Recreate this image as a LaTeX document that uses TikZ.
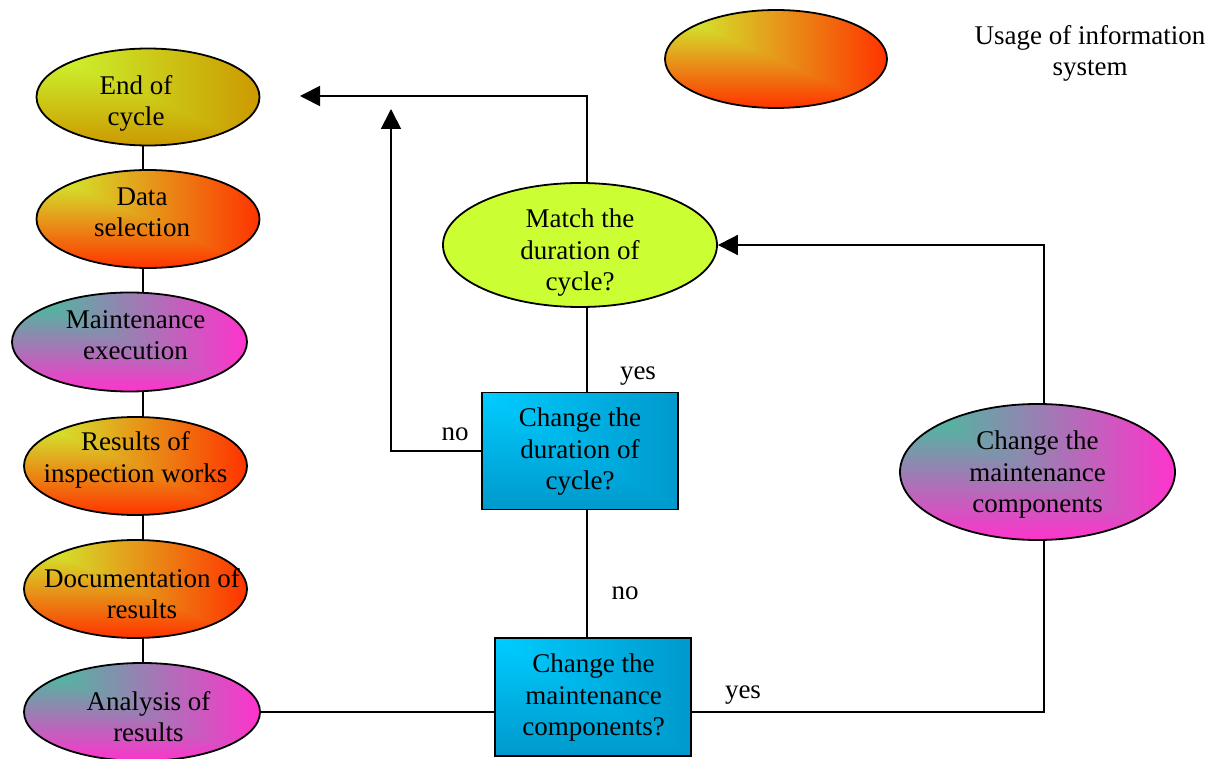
\documentclass[tikz,border=0pt]{standalone}
\usepackage{fontspec}
\setmainfont{Liberation Serif}
\usetikzlibrary{shapes.geometric,arrows.meta}
\definecolor{ygreen}{RGB}{204,255,51}
% rectangular "from corner" gradients (top-left -> rest), t = max(u,v)
\pgfdeclarefunctionalshading{goldsh}{\pgfpoint{-50bp}{-50bp}}{\pgfpoint{50bp}{50bp}}{}{
  25 exch sub 50 div exch 25 add 50 div
  2 copy lt {exch} if pop
  dup 1 gt {pop 1} if dup 0 lt {pop 0} if
  dup 0 mul 0.8 add exch dup -0.4 mul 1.0 add exch -0.2 mul 0.2 add
}
\pgfdeclarefunctionalshading{orangesh}{\pgfpoint{-50bp}{-50bp}}{\pgfpoint{50bp}{50bp}}{}{
  25 exch sub 50 div exch 25 add 50 div
  2 copy lt {exch} if pop
  dup 1 gt {pop 1} if dup 0 lt {pop 0} if
  dup 0.2 mul 0.8 add exch dup -0.8 mul 1.0 add exch -0.2 mul 0.2 add
}
\pgfdeclarefunctionalshading{pinksh}{\pgfpoint{-50bp}{-50bp}}{\pgfpoint{50bp}{50bp}}{}{
  25 exch sub 50 div exch 25 add 50 div
  2 copy lt {exch} if pop
  dup 1 gt {pop 1} if dup 0 lt {pop 0} if
  dup 0.8 mul 0.2 add exch dup -0.6 mul 0.8 add exch 0.2 mul 0.6 add
}
\pgfdeclarefunctionalshading{cyansh}{\pgfpoint{-50bp}{-50bp}}{\pgfpoint{50bp}{50bp}}{}{
  25 exch sub 50 div exch 25 add 50 div
  2 copy lt {exch} if pop
  dup 1 gt {pop 1} if dup 0 lt {pop 0} if
  dup 0 mul 0 add exch dup -0.2 mul 0.8 add exch -0.2 mul 1.0 add
}
\newcommand\dfont{\fontsize{13.5pt}{15.75pt}\selectfont}
\tikzset{
  ell/.style={ellipse, draw, line width=0.9pt, inner sep=0pt},
  qbox/.style={rectangle, draw, line width=0.9pt, inner sep=0pt, shading=cyansh},
  txt/.style={align=center, inner sep=0pt, font=\dfont},
  conn/.style={line width=0.9pt},
  arr/.style={conn, -{Triangle[length=10pt,width=10pt]}},
}
\begin{document}
\begin{tikzpicture}[x=0.5pt,y=-0.5pt]
\useasboundingbox (0,0) rectangle (1217,759);
% left column
\node[ell, shading=goldsh, minimum width=111.5pt, minimum height=48.5pt] (endc) at (148,97) {};
\node[txt] (endc-t) at (136,103.5) {End of\\cycle};
\node[ell, shading=orangesh, minimum width=111.5pt, minimum height=49pt] (data) at (148,219) {};
\node[txt] (data-t) at (142,212.5) {Data\\selection};
\node[ell, shading=pinksh, minimum width=117.5pt, minimum height=49.5pt] (maint) at (129.5,342) {};
\node[txt] (maint-t) at (135.5,335) {Maintenance\\execution};
\node[ell, shading=orangesh, minimum width=111.5pt, minimum height=49pt] (res) at (135.5,466) {};
\node[txt] (res-t) at (135.5,460) {Results of\\inspection works};
\node[ell, shading=orangesh, minimum width=111.5pt, minimum height=49pt] (doc) at (135.5,589) {};
\node[txt] (doc-t) at (142,593.5) {Documentation of\\results};
\node[ell, shading=pinksh, minimum width=118pt, minimum height=49pt] (ana) at (142,712) {};
\node[txt] (ana-t) at (148.5,716.5) {Analysis of\\results};
% legend
\node[ell, shading=orangesh, minimum width=111pt, minimum height=49pt] (legend) at (776,59) {};
\node[txt] (usage) at (1090,53.5) {Usage of information\\system};
% decisions
\node[ell, fill=ygreen, minimum width=137pt, minimum height=62pt] (match) at (580,245) {};
\node[txt] (match-t) at (580,253) {Match the\\duration of\\cycle?};
\node[qbox, minimum width=98pt, minimum height=58.5pt] (q1) at (580,451) {};
\node[txt] (q1-t) at (580,452) {Change the\\duration of\\cycle?};
\node[qbox, minimum width=98pt, minimum height=59pt] (q2) at (593,697) {};
\node[txt] (q2-t) at (593.5,698) {Change the\\maintenance\\components?};
\node[ell, shading=pinksh, minimum width=137.5pt, minimum height=68pt] (chg) at (1037.5,472) {};
\node[txt] (chg-t) at (1037.5,475) {Change the\\maintenance\\components};
% coordinates
\coordinate (spine) at (143,0);
\coordinate (vx) at (587,0);
\coordinate (vx2) at (1044,0);
\coordinate (tipA) at (300,96);
\coordinate (tipB) at (391,109);
% spine connectors
\draw[conn] (endc.south -| spine) -- (data.north -| spine);
\draw[conn] (data.south -| spine) -- (maint.north -| spine);
\draw[conn] (maint.south -| spine) -- (res.north -| spine);
\draw[conn] (res.south -| spine) -- (doc.north -| spine);
\draw[conn] (doc.south -| spine) -- (ana.north -| spine);
% flow connectors
\draw[arr] (match.north -| vx) |- (tipA);
\draw[conn] (match.south -| vx) -- (q1.north -| vx);
\draw[arr] (q1.west) -| (tipB);
\draw[conn] (q1.south -| vx) -- (q2.north -| vx);
\draw[conn] (ana.east) -- (ana.east -| q2.west);
\draw[conn] (ana.east -| q2.east) -| (chg.south -| vx2);
\draw[arr] (chg.north -| vx2) |- (match.east);
% labels
\node[txt] (yes1) at (638,376) {yes};
\node[txt] (no1) at (455,434) {no};
\node[txt] (no2) at (625,593) {no};
\node[txt] (yes2) at (743,695) {yes};
\end{tikzpicture}
\end{document}
